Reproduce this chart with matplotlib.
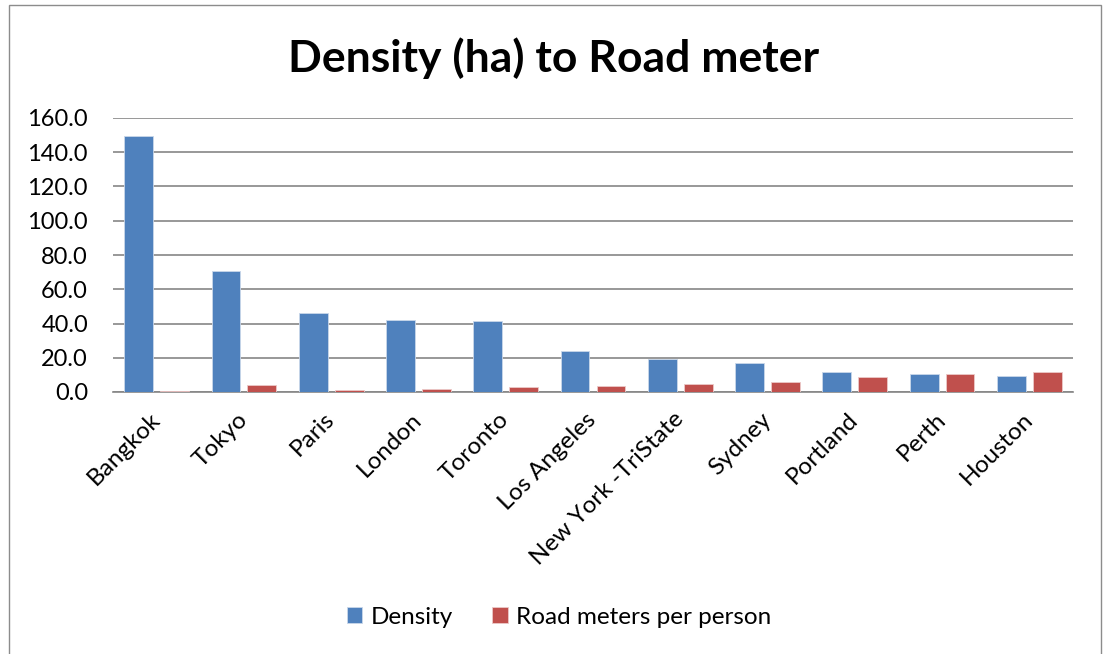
import matplotlib.pyplot as plt
import numpy as np
from matplotlib.patches import Rectangle

cities = ["Bangkok", "Tokyo", "Paris", "London", "Toronto", "Los Angeles",
          "New York -TriState", "Sydney", "Portland", "Perth", "Houston"]
density = [149.3, 70.8, 46.1, 42.0, 41.5, 23.9, 19.1, 16.8, 11.5, 10.7, 9.4]
road_m = [0.6, 3.9, 0.9, 1.9, 2.7, 3.5, 4.5, 6.0, 9.0, 10.7, 11.5]
yticks = np.arange(0, 161, 20)

plt.rcParams["font.family"] = ["Lato", "DejaVu Sans"]

fig = plt.figure(figsize=(11.07, 6.54), dpi=100)
fig.patch.set_facecolor("white")
fig.patches.append(Rectangle((9 / 1107, -0.01), 1092 / 1107, 1 - 5 / 654 + 0.01,
                             transform=fig.transFigure, fill=False,
                             edgecolor="#8c8c8c", linewidth=1.0))

ax = fig.add_axes([113 / 1107, 1 - 392 / 654, 960 / 1107, 274 / 654])
x = np.arange(len(cities))
w = 0.33
ax.bar(x - 0.206, density, w, color="#4F81BD", edgecolor="#c9d7ea", linewidth=0.6,
       label="Density", zorder=3)
ax.bar(x + 0.206, road_m, w, color="#C0504D", edgecolor="#ecc9c8", linewidth=0.6,
       label="Road meters per person", zorder=3)

ax.set_xlim(-0.5, len(cities) - 0.5)
ax.set_ylim(0, 160)
ax.set_yticks(yticks)
ax.set_yticklabels([f"{v:.1f}" for v in yticks], fontsize=17)
ax.yaxis.grid(True, color="#868686", linewidth=1.2, zorder=0)
ax.tick_params(axis="y", length=0, pad=18)
ax.tick_params(axis="x", length=0)
ax.set_xticks(x)
ax.set_xticklabels(cities, fontsize=17.5, rotation=45, ha="right",
                   rotation_mode="anchor", va="center")
for lbl in ax.get_xticklabels():
    lbl.set_y(-0.07)
for side in ("top", "right", "left"):
    ax.spines[side].set_visible(False)
ax.spines["bottom"].set_color("#868686")
ax.spines["bottom"].set_linewidth(1.2)

fig.text(0.5, 1 - 58 / 654, "Density (ha) to Road meter", ha="center", va="center",
         fontsize=32, fontweight="bold")

fig.legend(loc="center", bbox_to_anchor=(0.505, 1 - 617 / 654), ncol=2, frameon=False,
           fontsize=17.5, handlelength=0.65, handleheight=0.65, handletextpad=0.35,
           columnspacing=1.6)

fig.savefig("out.png", dpi=100)
